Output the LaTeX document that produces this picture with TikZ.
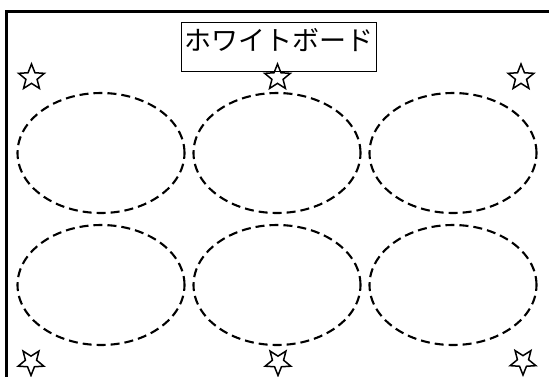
\documentclass[tikz,border=0pt]{standalone}
\usepackage{fontspec}
\newfontfamily\jp{Noto Sans CJK JP}
\usetikzlibrary{shapes.geometric}
\tikzset{
  seat/.style={draw, ellipse, dash pattern=on 9pt off 5pt, line width=2.1pt, minimum width=167pt, minimum height=120pt, inner sep=0pt},
  starmark/.style={draw, star, star points=5, star point ratio=2.3, minimum size=27pt, inner sep=0pt, line width=1.5pt},
  upstar/.style={starmark},
  downstar/.style={starmark, shape border rotate=180},
  titlebox/.style={draw, line width=1pt, font=\jp\fontsize{27pt}{30pt}\selectfont, inner xsep=3pt, minimum height=49pt, text height=0.88em, text depth=0.12em},
  frameline/.style={line width=2.6pt}
}
\begin{document}
\begin{tikzpicture}[x=1pt,y=-1pt]
\useasboundingbox (0,0) rectangle (549,376);
\draw[frameline] (6.2,377) -- (6.2,11.2) -- (550,11.2);
\node[titlebox] (board) at (278.5,46.5) {ホワイトボード};
\node[seat] (s1) at (101,153) {};
\node[seat] (s2) at (277,153) {};
\node[seat] (s3) at (453,153) {};
\node[seat] (s4) at (101,285) {};
\node[seat] (s5) at (277,285) {};
\node[seat] (s6) at (453,285) {};
\node[upstar] (t1) at (31.5,77.5) {};
\node[upstar] (t2) at (277.5,77.5) {};
\node[upstar] (t3) at (521,77.5) {};
\node[downstar] (b1) at (31,362) {};
\node[downstar] (b2) at (278,362) {};
\node[downstar] (b3) at (523,361.5) {};
\end{tikzpicture}
\end{document}
